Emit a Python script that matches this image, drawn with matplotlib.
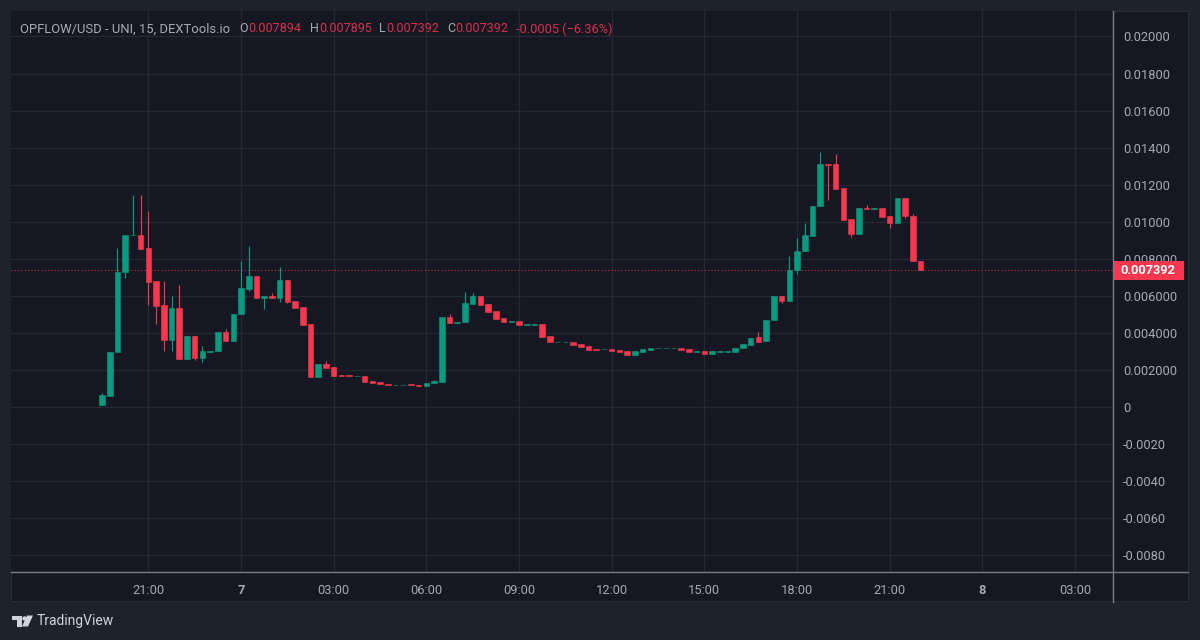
#!/usr/bin/env python3

import matplotlib
matplotlib.use("Agg")
import matplotlib.pyplot as plt
from matplotlib.lines import Line2D
from matplotlib.patches import Polygon, Rectangle
from matplotlib.transforms import blended_transform_factory

plt.rcParams["font.family"] = ["Roboto", "DejaVu Sans"]

opens = [
    .00010, .00062, .00299, .00727, .00928, .00930, .00860, .00680, .00551, .00364,
    .00536, .00260, .00382, .00263, .00299, .00301, .00405, .00359, .00500, .00637,
    .00709, .00587, .00601, .00590, .00686, .00572, .00538, .00448, .00161, .00235,
    .00217, .00173, .00175, .00166, .00170, .00141, .00136, .00127, .00118, .00118,
    .00123, .00121, .00114, .00128, .00137, .00486, .00454, .00457, .00558, .00601,
    .00558, .00518, .00481, .00457, .00463, .00443, .00445, .00448, .00382, .00350,
    .00350, .00353, .00341, .00332, .00315, .00312, .00315, .00306, .00301, .00283,
    .00297, .00310, .00317, .00317, .00317, .00321, .00312, .00296, .00301, .00287,
    .00297, .00297, .00297, .00317, .00335, .00378, .00355, .00468, .00599, .00571,
    .00738, .00840, .00926, .01083, .01313, .01313, .01180, .01016, .00935, .01075,
    .01068, .01072, .01029, .00993, .01128, .01034, .007894,
]
closes = [
    .00066, .00299, .00727, .00930, .00930, .00854, .00677, .00547, .00364, .00536,
    .00260, .00382, .00263, .00301, .00305, .00405, .00359, .00504, .00642, .00709,
    .00587, .00597, .00590, .00686, .00567, .00533, .00443, .00161, .00235, .00213,
    .00170, .00170, .00166, .00170, .00137, .00132, .00123, .00118, .00121, .00121,
    .00118, .00114, .00132, .00141, .00486, .00452, .00461, .00562, .00601, .00553,
    .00515, .00477, .00457, .00463, .00443, .00448, .00448, .00378, .00350, .00353,
    .00353, .00333, .00324, .00310, .00310, .00315, .00301, .00296, .00283, .00301,
    .00315, .00321, .00321, .00321, .00321, .00306, .00296, .00301, .00287, .00301,
    .00301, .00301, .00321, .00339, .00375, .00353, .00472, .00599, .00571, .00741,
    .00845, .00930, .01086, .01313, .01307, .01176, .01011, .00934, .01075, .01068,
    .01074, .01025, .00993, .01128, .01029, .00790, .007392,
]
highs = [
    .00076, .00299, .00858, .00930, .01142, .01142, .01059, .00680, .00678, .00601,
    .00660, .00382, .00382, .00328, .00305, .00405, .00423, .00504, .00790, .00872,
    .00709, .00597, .00615, .00756, .00686, .00572, .00538, .00448, .00235, .00247,
    .00217, .00173, .00175, .00170, .00170, .00141, .00136, .00127, .00121, .00121,
    .00123, .00121, .00132, .00148, .00486, .00504, .00461, .00621, .00615, .00601,
    .00558, .00518, .00481, .00463, .00463, .00448, .00448, .00448, .00382, .00353,
    .00353, .00353, .00341, .00332, .00315, .00315, .00315, .00306, .00301, .00301,
    .00315, .00321, .00321, .00321, .00321, .00321, .00312, .00301, .00301, .00301,
    .00301, .00301, .00321, .00339, .00375, .00403, .00472, .00599, .00599, .00817,
    .00912, .00993, .01086, .01376, .01313, .01367, .01180, .01016, .01075, .01092,
    .01074, .01072, .01029, .01128, .01128, .01040, .007895,
]
lows = [
    .00010, .00058, .00299, .00695, .00928, .00854, .00553, .00450, .00301, .00301,
    .00260, .00260, .00256, .00242, .00299, .00301, .00359, .00359, .00500, .00628,
    .00587, .00529, .00590, .00565, .00560, .00533, .00443, .00161, .00161, .00213,
    .00170, .00170, .00166, .00166, .00137, .00132, .00123, .00118, .00118, .00118,
    .00118, .00114, .00114, .00128, .00137, .00452, .00454, .00457, .00558, .00553,
    .00515, .00477, .00457, .00457, .00443, .00443, .00445, .00378, .00350, .00350,
    .00350, .00333, .00324, .00310, .00310, .00312, .00301, .00296, .00283, .00283,
    .00297, .00310, .00317, .00317, .00317, .00306, .00296, .00296, .00287, .00287,
    .00297, .00297, .00297, .00317, .00335, .00353, .00355, .00468, .00562, .00571,
    .00718, .00840, .00926, .01083, .01119, .01176, .01011, .00916, .00935, .01068,
    .01068, .01025, .00969, .00993, .01020, .00790, .007392,
]

price_ticks = [0.02, 0.018, 0.016, 0.014, 0.012, 0.01, 0.008, 0.006, 0.004, 0.002,
               0, -0.002, -0.004, -0.006, -0.008]
price_labels = ["0.02000", "0.01800", "0.01600", "0.01400", "0.01200", "0.01000",
                "0.008000", "0.006000", "0.004000", "0.002000", "0",
                "-0.0020", "-0.0040", "-0.0060", "-0.0080"]
time_ticks = [6, 18, 30, 42, 54, 66, 78, 90, 102, 114, 126]
time_labels = ["21:00", "7", "03:00", "06:00", "09:00", "12:00", "15:00", "18:00",
               "21:00", "8", "03:00"]

W, H = 1200, 640
OUTER = "#1e222d"
PANEL = "#151723"
GRID = "#252733"
SEP = "#787b86"
TEXT = "#a6a9b2"
UP = "#0b9a7d"
DOWN = "#f7374f"


def fx(px):
    return px / W


def fy(py):
    return 1 - py / H


fig = plt.figure(figsize=(W / 100, H / 100), dpi=100, facecolor=OUTER)

# panel behind chart + both scales
fig.patches.append(Rectangle((fx(11), fy(600.5)), fx(1177), 589.5 / H, zorder=-1,
                             transform=fig.transFigure, fc=PANEL, ec="#2a2e39", lw=0.7))

ax = fig.add_axes([fx(11), fy(571.5), fx(1101.5), 560.5 / H])
ax.set_facecolor(PANEL)
ax.set_xlim(-11.79, 130.85)
ax.set_ylim(-0.00887, 0.021375)
for s in ax.spines.values():
    s.set_visible(False)

ax.set_axisbelow(True)
ax.grid(True, color=GRID, lw=0.9)

xs = list(range(len(opens)))
colors = [UP if c >= o else DOWN for o, c in zip(opens, closes)]

ax.vlines(xs, lows, highs, colors=colors, lw=0.85, zorder=2)
ax.bar(xs, [c - o for o, c in zip(opens, closes)], bottom=opens, width=0.72,
       color=colors, edgecolor=colors, linewidth=0.4, zorder=3)

# last price line and tag
ax.axhline(closes[-1], color=DOWN, lw=0.8, ls=(0, (1, 2)), alpha=0.8, zorder=1)

ax.yaxis.tick_right()
ax.set_yticks(price_ticks)
ax.set_yticklabels(price_labels, fontsize=9.3, color=TEXT)
ax.set_xticks(time_ticks)
ax.set_xticklabels(time_labels, fontsize=9.3, color=TEXT)
ax.tick_params(axis="y", length=0, pad=7.6)
ax.tick_params(axis="x", length=0, pad=9)
for lab, txt in zip(ax.get_xticklabels(), time_labels):
    if len(txt) == 1:
        lab.set_fontweight("bold")

trans = blended_transform_factory(ax.transAxes, ax.transData)
ax.add_patch(Rectangle((1.0, closes[-1] - 0.00051), 0.0645, 0.00102, transform=trans,
                       fc=DOWN, ec="none", clip_on=False, zorder=5))
ax.text(1.0322, closes[-1], f"{closes[-1]:.6f}", transform=trans, color="white",
        fontsize=9.2, fontweight="bold", ha="center", va="center", clip_on=False, zorder=6)

# scale separators
fig.add_artist(Line2D([fx(1112.5)] * 2, [fy(11), fy(602)], color=SEP, lw=1.0))
fig.add_artist(Line2D([fx(11), fx(1188)], [fy(571.5)] * 2, color=SEP, lw=1.0))

# legend line on top of chart
HEAD = "#a8abb4"
HEAD_RED = "#d6324a"
header = [
    (20, "OPFLOW/USD - UNI, 15, DEXTools.io", HEAD, 9.4),
    (239, "O", HEAD, 9.0),
    (248, f"{opens[-1]:.6f}", HEAD_RED, 9.0),
    (310, "H", HEAD, 9.0),
    (319, f"{highs[-1]:.6f}", HEAD_RED, 9.0),
    (379, "L", HEAD, 9.0),
    (386, f"{lows[-1]:.6f}", HEAD_RED, 9.0),
    (447, "C", HEAD, 9.0),
    (455, f"{closes[-1]:.6f}", HEAD_RED, 9.0),
    (516, "-0.0005 (\u22126.36%)", HEAD_RED, 9.2),
]
for px, txt, col, size in header:
    fig.text(fx(px), fy(29), txt, color=col, fontsize=size, ha="left", va="center")

# TradingView logo
LOGO = "#d1d4dc"
to_fig = lambda pts: [(fx(a), fy(b)) for a, b in pts]
fig.patches.append(Polygon(to_fig([(12, 615.5), (21.5, 615.5), (21.5, 626.5), (17, 626.5),
                                   (17, 620), (12, 620)]),
                           transform=fig.transFigure, fc=LOGO, ec="none"))
fig.patches.append(Polygon(to_fig([(27, 615.5), (33, 615.5), (28, 626.5), (22, 626.5)]),
                           transform=fig.transFigure, fc=LOGO, ec="none"))
fig.add_artist(Line2D([fx(24.2)], [fy(617.8)], marker="o", ms=3.2, color=LOGO, mec="none"))
fig.text(fx(37), fy(621), "TradingView", color=LOGO, fontsize=10, ha="left", va="center")

fig.savefig("out.png", dpi=100, facecolor=OUTER)
